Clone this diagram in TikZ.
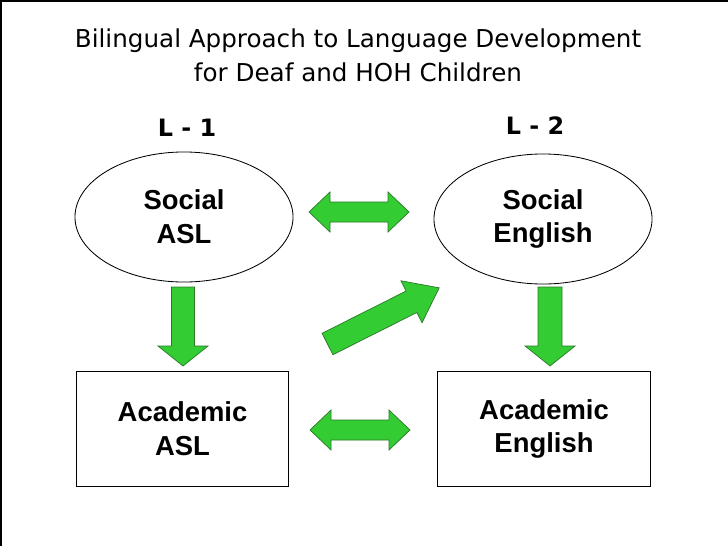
\documentclass[tikz,border=0pt]{standalone}
\usepackage{fontspec}
\setmainfont{Liberation Sans}
\newfontfamily\titlefont{DejaVu Sans}
\usetikzlibrary{shapes.geometric}
\definecolor{arrowgreen}{RGB}{51,204,51}
\definecolor{arrowedge}{RGB}{40,120,40}
\tikzset{
  bubble/.style={ellipse, draw, line width=0.6pt, minimum width=5.45cm, minimum height=3.25cm,
    inner sep=0pt, align=center, font=\fontsize{19.5}{24}\selectfont\bfseries},
  block/.style={rectangle, draw, line width=0.7pt, minimum width=5.32cm, minimum height=2.85cm,
    inner sep=0pt, align=center, font=\fontsize{19.5}{24}\selectfont\bfseries},
  heading/.style={anchor=base, inner sep=0pt, font=\titlefont\fontsize{17.5}{21}\selectfont},
  level/.style={anchor=base, inner sep=0pt, font=\titlefont\fontsize{17}{20}\selectfont\bfseries},
  greenarrow/.style={fill=arrowgreen, draw=arrowedge, line width=0.5pt, line join=miter}
}
\begin{document}
\begin{tikzpicture}[x=0.025cm, y=-0.025cm]
      \useasboundingbox (0,0) rectangle (728,546);
      \draw [line width=1.2pt] (1,546) -- (1,1) -- (728,1);
      % title
      \node [heading]  (title1) at (358, 47) {Bilingual Approach to Language Development};
      \node [heading]  (title2) at (358, 81) {for Deaf and HOH Children};
      \node [level]        (l1) at (187,136) {L - 1};
      \node [level]        (l2) at (535,134) {L - 2};
      % shapes
      \node [bubble]   (socasl) at (184,217) {Social\\ASL};
      \node [bubble]   (soceng) at (543,219) {Social\\English};
      \node [block]    (acaasl) at (182.5,429) {Academic\\ASL};
      \node [block]    (acaeng) at (544,429) {Academic\\English};
      % green arrows
      \draw [greenarrow] (309,212) -- (330,192) -- (330,202) -- (388,202) -- (388,192) -- (409,212)
            -- (388,232) -- (388,222) -- (330,222) -- (330,232) -- cycle;
      \draw [greenarrow] (310,430) -- (331,410) -- (331,420) -- (389,420) -- (389,410) -- (410,430)
            -- (389,450) -- (389,440) -- (331,440) -- (331,450) -- cycle;
      \draw [greenarrow] (171.5,287) -- (194.5,287) -- (194.5,346) -- (208,346) -- (183,366)
            -- (158,346) -- (171.5,346) -- cycle;
      \draw [greenarrow] (538,287) -- (562,287) -- (562,346) -- (575,346) -- (550,366)
            -- (525,346) -- (538,346) -- cycle;
      \begin{scope}[shift={(327.5,344)}, rotate=26.7]
        \draw [greenarrow] (0,-12) -- (94,-12) -- (94,-23.5) -- (125,0) -- (94,23.5) -- (94,12)
              -- (0,12) -- cycle;
      \end{scope}
\end{tikzpicture}
\end{document}
